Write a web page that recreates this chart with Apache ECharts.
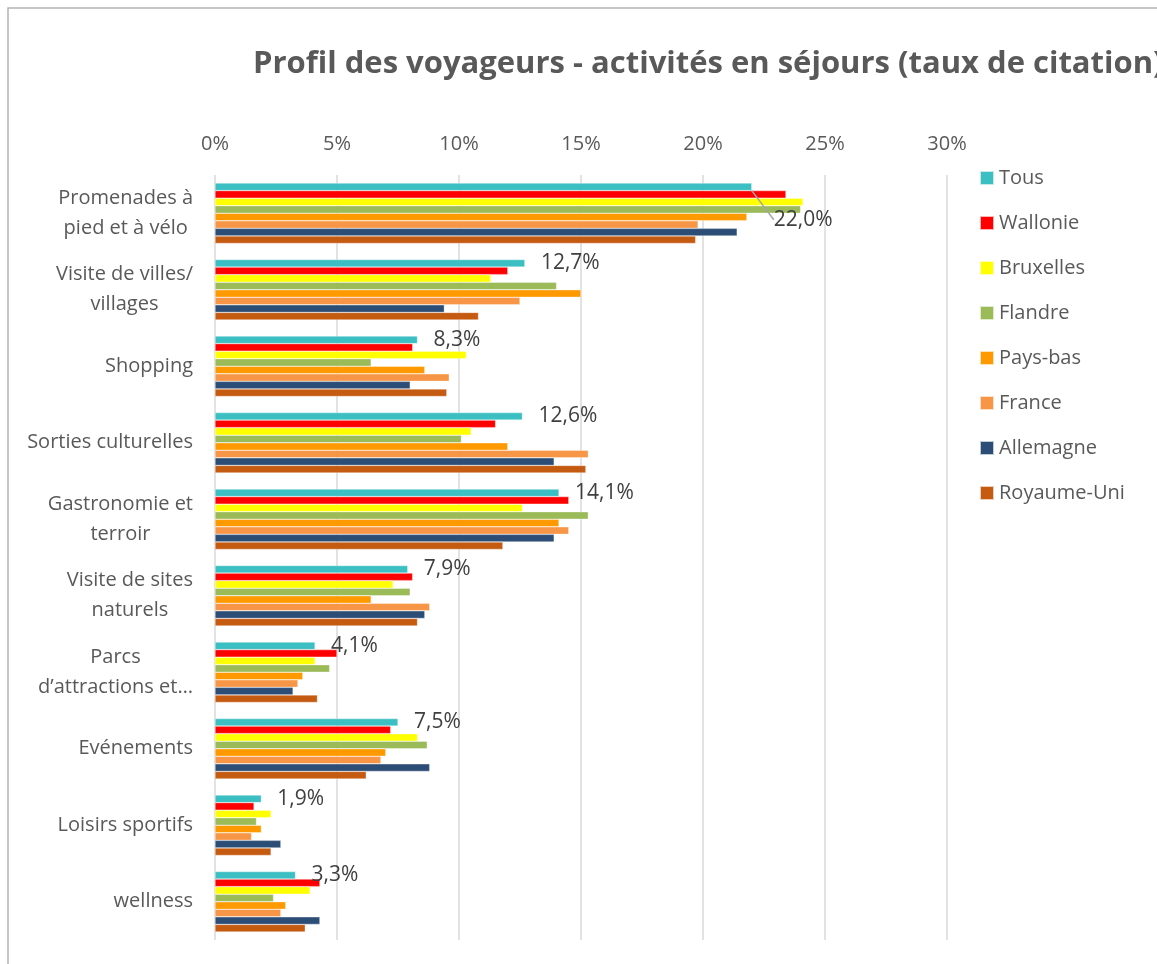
<!DOCTYPE html>
<html>
<head>
<meta charset="utf-8">
<script src="https://cdn.jsdelivr.net/npm/echarts@6/dist/echarts.min.js"></script>
<style>
  html, body { margin: 0; padding: 0; background: #fff; }
  #chart { width: 1157px; height: 964px; }
</style>
</head>
<body>
<div id="chart"></div>
<script>
// categories (top to bottom)
const categories = [
  'Promenades à\npied et à vélo',
  'Visite de villes/\nvillages',
  'Shopping',
  'Sorties culturelles',
  'Gastronomie et\nterroir',
  'Visite de sites\nnaturels',
  'Parcs\nd’attractions et…',
  'Evénements',
  'Loisirs sportifs',
  'wellness'
]
const xTicks = [0, 5, 10, 15, 20, 25, 30]

// valeurs en %
const tous       = [22.0, 12.7, 8.3, 12.6, 14.1, 7.9, 4.1, 7.5, 1.9, 3.3]
const wallonie   = [23.4, 12.0, 8.1, 11.5, 14.5, 8.1, 5.0, 7.2, 1.6, 4.3]
const bruxelles  = [24.1, 11.3, 10.3, 10.5, 12.6, 7.3, 4.1, 8.3, 2.3, 3.9]
const flandre    = [24.0, 14.0, 6.4, 10.1, 15.3, 8.0, 4.7, 8.7, 1.7, 2.4]
const paysBas    = [21.8, 15.0, 8.6, 12.0, 14.1, 6.4, 3.6, 7.0, 1.9, 2.9]
const france     = [19.8, 12.5, 9.6, 15.3, 14.5, 8.8, 3.4, 6.8, 1.5, 2.7]
const allemagne  = [21.4, 9.4, 8.0, 13.9, 13.9, 8.6, 3.2, 8.8, 2.7, 4.3]
const royaumeUni = [19.7, 10.8, 9.5, 15.2, 11.8, 8.3, 4.2, 6.2, 2.3, 3.7]

const seriesNames = ['Tous', 'Wallonie', 'Bruxelles', 'Flandre', 'Pays-bas', 'France', 'Allemagne', 'Royaume-Uni']
const seriesValues = [tous, wallonie, bruxelles, flandre, paysBas, france, allemagne, royaumeUni]
const colors = ['#3bbfc2', '#ff0000', '#ffff00', '#9bbb59', '#ff9900', '#f79646', '#2c4d75', '#c55a11']

const font = '"Open Sans", "Noto Sans", sans-serif'
const chart = echarts.init(document.getElementById('chart'))

const series = seriesValues.map((vals, i) => {
  let s = {
    type: 'bar',
    name: seriesNames[i],
    barGap: '0%',
    barCategoryGap: '21%',
    itemStyle: { color: colors[i], borderColor: 'rgba(255,255,255,0.7)', borderWidth: 0.5 },
    data: vals.map(v => v)
  }
  // étiquettes seulement sur "Tous"
  if (i === 0) {
    s.z = 5
    s.data = vals.map((v, k) => k === 0 ? { value: v, labelLine: { show: true } } : v)
    s.label = {
      show: true,
      position: 'right',
      distance: 16,
      color: '#404040',
      fontFamily: font,
      fontSize: 21,
      formatter: p => p.value.toFixed(1).replace('.', ',') + '%'
    }
    s.labelLayout = p => p.dataIndex === 0 ? { dx: 6, dy: 33 } : {}
    s.labelLine = { z: 10, lineStyle: { color: '#a6a6a6', width: 1.5 } }
  }
  return s
})

const option = {
  animation: false,
  color: colors,
  title: {
    text: 'Profil des voyageurs - activités en séjours (taux de citation)',
    left: 248,
    top: 44,
    textStyle: { fontFamily: font, fontSize: 31, fontWeight: 'bold', color: '#595959' }
  },
  legend: {
    orient: 'vertical',
    left: 974,
    top: 162,
    icon: 'rect',
    itemWidth: 14,
    itemHeight: 14,
    itemGap: 23,
    textStyle: { fontFamily: font, fontSize: 20, color: '#595959', lineHeight: 22 },
    data: seriesNames
  },
  grid: { left: 215, right: 210, top: 175, bottom: 24, containLabel: false },
  xAxis: {
    type: 'value',
    position: 'top',
    min: xTicks[0],
    max: xTicks[xTicks.length - 1],
    interval: 5,
    axisLine: { show: false },
    axisTick: { show: false },
    axisLabel: { formatter: '{value}%', color: '#595959', fontFamily: font, fontSize: 20, margin: 21 },
    splitLine: { lineStyle: { color: '#d9d9d9', width: 1.5 } }
  },
  yAxis: {
    type: 'category',
    inverse: true,
    data: categories,
    axisLine: { show: false },
    axisTick: { show: false },
    axisLabel: {
      margin: 22,
      color: '#595959',
      fontFamily: font,
      fontSize: 20,
      lineHeight: 30,
      formatter: v => v.split('\n').map(l => '{c|' + l + '}').join('\n'),
      rich: { c: { align: 'center', color: '#595959', fontFamily: font, fontSize: 20, lineHeight: 30 } }
    }
  },
  graphic: [{
    type: 'rect',
    shape: { x: 8, y: 8, width: 1300, height: 1100 },
    style: { fill: 'none', stroke: '#b4b4b4', lineWidth: 1.5 },
    silent: true
  }],
  series: series
}

chart.setOption(option)
</script>
</body>
</html>
